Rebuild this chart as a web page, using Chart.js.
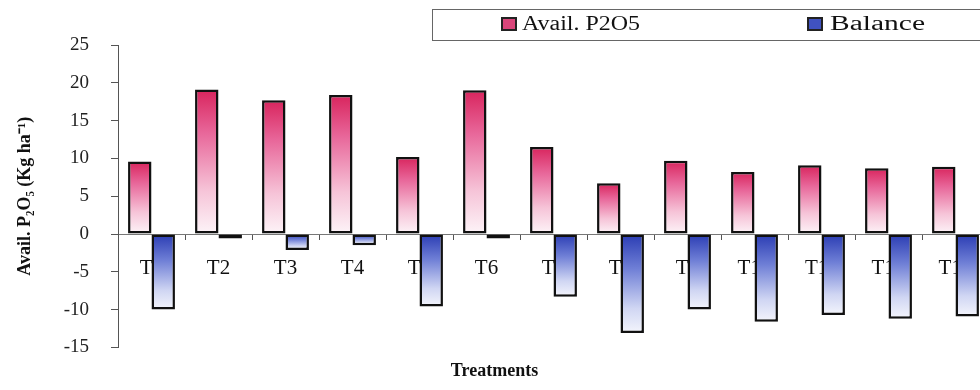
<!DOCTYPE html>
<html lang="en">
<head>
    <meta charset="UTF-8">
    <title>Avail. P2O5 and Balance</title>
    <script src="https://cdn.jsdelivr.net/npm/chart.js"></script>
    <style>
        html, body { margin: 0; padding: 0; background: #fff; overflow: hidden; }
        #chart { display: block; }
    </style>
</head>
<body>
    <canvas id="chart" width="995" height="390"></canvas>
    <script>
        const treatments = ['T1', 'T2', 'T3', 'T4', 'T5', 'T6', 'T7', 'T8', 'T9', 'T10', 'T11', 'T12', 'T13'];
        const availP2O5 = [9.6, 19.1, 17.7, 18.4, 10.2, 19.0, 11.5, 6.7, 9.7, 8.2, 9.1, 8.7, 8.9];
        const balance = [-10.0, -0.6, -2.1, -1.5, -9.6, -0.6, -8.3, -13.1, -10.0, -11.6, -10.7, -11.2, -10.9];
        const yTicks = [-15, -10, -5, 0, 5, 10, 15, 20, 25];

        const serif = "'Liberation Serif', 'Times New Roman', serif";

        // per-bar vertical gradient, dark at the outer end for pink, at the zero line for blue
        function barFill(stops, fallback) {
            return function(ctx) {
                const chart = ctx.chart;
                if (!chart.chartArea || !ctx.parsed) return fallback;
                const y = chart.scales.y;
                const top = y.getPixelForValue(Math.max(ctx.parsed.y, 0));
                const bottom = y.getPixelForValue(Math.min(ctx.parsed.y, 0));
                if (!isFinite(top) || !isFinite(bottom) || bottom - top < 1) return fallback;
                const g = chart.ctx.createLinearGradient(0, top, 0, bottom);
                stops.forEach(s => g.addColorStop(s[0], s[1]));
                return g;
            };
        }

        // boxed legend like the original (top right, running off the edge)
        // [swatch x, text x, text width in the original]
        const legendSpots = [[502, 522, 118], [808, 830, 95]];
        const boxLegend = {
            id: 'boxLegend',
            afterDraw(chart) {
                const c = chart.ctx;
                c.save();
                c.strokeStyle = '#666';
                c.lineWidth = 1;
                c.strokeRect(432.5, 9.5, 600, 31);
                c.font = '20px ' + serif;
                c.textBaseline = 'middle';
                chart.data.datasets.forEach((ds, i) => {
                    const [sx, tx, tw] = legendSpots[i];
                    c.fillStyle = ds.legendColor;
                    c.fillRect(sx, 18, 14, 12);
                    c.strokeStyle = '#222';
                    c.lineWidth = 2;
                    c.strokeRect(sx, 18, 14, 12);
                    c.fillStyle = '#111';
                    const w = c.measureText(ds.label).width;
                    c.save();
                    c.translate(tx, 25);
                    c.scale(tw / w, 1);
                    c.fillText(ds.label, 0, 0);
                    c.restore();
                });
                c.restore();
            }
        };

        new Chart(document.getElementById('chart'), {
            type: 'bar',
            data: {
                labels: treatments,
                datasets: [{
                    label: 'Avail. P2O5',
                    data: availP2O5,
                    legendColor: '#d9457a',
                    backgroundColor: barFill([[0, '#d8245d'], [0.3, '#e8679a'], [0.7, '#f6c4d8'], [1, '#fdf4f8']], '#e8679a'),
                    borderColor: '#111',
                    borderWidth: 2.5,
                    borderSkipped: false
                }, {
                    label: 'Balance',
                    data: balance,
                    legendColor: '#4052c0',
                    backgroundColor: barFill([[0, '#2a3cb3'], [0.35, '#6f7fd6'], [0.75, '#d0d6f3'], [1, '#f4f5fc']], '#6f7fd6'),
                    borderColor: '#111',
                    borderWidth: 2.5,
                    borderSkipped: false
                }]
            },
            options: {
                responsive: false,
                animation: false,
                categoryPercentage: 0.7,
                barPercentage: 1.0,
                layout: { padding: { top: 45, right: 6, left: 0, bottom: 0 } },
                plugins: {
                    legend: { display: false },
                    tooltip: { enabled: false },
                    title: {
                        display: true,
                        position: 'bottom',
                        text: 'Treatments',
                        color: '#111',
                        font: { family: serif, size: 18, weight: 'bold' },
                        padding: { top: 13, bottom: 8 }
                    }
                },
                scales: {
                    x: {
                        type: 'category',
                        position: { y: 0 },
                        offset: true,
                        grid: { offset: true, drawOnChartArea: false, tickLength: 5, color: '#555' },
                        border: { color: '#777', width: 1 },
                        ticks: { color: '#111', padding: 17, font: { family: serif, size: 21 }, maxRotation: 0, autoSkip: false }
                    },
                    y: {
                        min: -15,
                        max: 25,
                        afterBuildTicks: axis => { axis.ticks = yTicks.map(v => ({ value: v })); },
                        afterFit: axis => { axis.width = 118; },
                        grid: { drawOnChartArea: false, tickLength: 7, color: '#555' },
                        border: { color: '#555', width: 1 },
                        ticks: { color: '#222', padding: 22, font: { family: serif, size: 19 } },
                        title: {
                            display: true,
                            text: 'Avail. P\u2082O\u2085 (Kg ha\u207B\u00B9)',
                            color: '#111',
                            font: { family: serif, size: 18, weight: 'bold' },
                            padding: { top: 15, bottom: 0 }
                        }
                    }
                }
            },
            plugins: [boxLegend]
        });
    </script>
</body>
</html>
